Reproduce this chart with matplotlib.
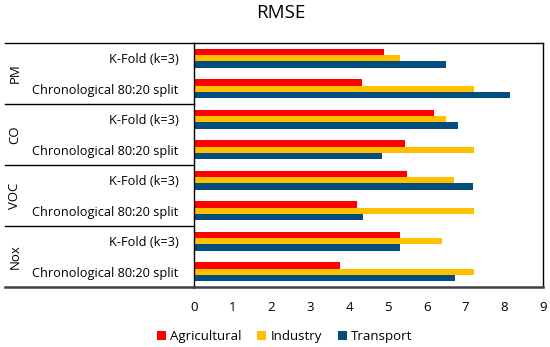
import matplotlib.pyplot as plt
from matplotlib.lines import Line2D
import numpy as np

# data, top to bottom
groups = ["PM", "CO", "VOC", "Nox"]
methods = ["K-Fold (k=3)", "Chronological 80:20 split"]
agricultural = [4.90, 4.32, 6.20, 5.45, 5.50, 4.21, 5.30, 3.76]
industry = [5.30, 7.23, 6.50, 7.23, 6.70, 7.23, 6.40, 7.23]
transport = [6.50, 8.14, 6.82, 4.86, 7.20, 4.35, 5.30, 6.72]

plt.rcParams['font.family'] = ['Open Sans', 'DejaVu Sans']

fig = plt.figure(figsize=(5.5, 3.47), dpi=100)
ax = fig.add_axes([194/550, 60/347, 349/550, 244/347])

n = len(agricultural)
y = np.arange(n)
h = 0.205
ax.barh(y - h, agricultural, height=h, color="#FF0000", label="Agricultural")
ax.barh(y, industry, height=h, color="#FFC000", label="Industry")
ax.barh(y + h, transport, height=h, color="#034E7F", label="Transport")

ax.set_ylim(n - 0.5, -0.5)
ax.set_xlim(0, 9)
ax.set_xticks(range(10))
ax.tick_params(axis='x', length=0, pad=10, labelsize=9.5)
ax.set_yticks(y)
ax.set_yticklabels(methods * len(groups), fontsize=9.2)
ax.tick_params(axis='y', length=0, pad=11)

for s in ['top', 'right', 'left']:
    ax.spines[s].set_color('black')
    ax.spines[s].set_linewidth(1.0)
ax.spines['bottom'].set_color('#404040')
ax.spines['bottom'].set_linewidth(1.8)

# label area lines
x0 = -189/349
for k in range(len(groups) + 1):
    yy = 1 - k * 0.25
    lw, col = (1.8, '#404040') if k == len(groups) else (1.0, 'black')
    ax.add_line(Line2D([x0, 0], [yy, yy], transform=ax.transAxes,
                       color=col, lw=lw, clip_on=False))
for k, g in enumerate(groups):
    ax.text(-179/349, 1 - (k + 0.5) * 0.25, g, transform=ax.transAxes,
            rotation=90, ha='center', va='center', fontsize=9.5)

fig.text(0.51, 0.962, "RMSE", ha='center', va='center', fontsize=13.5)
fig.legend(loc='center', bbox_to_anchor=(0.517, 0.03), ncol=3, frameon=False,
           fontsize=9.5, handlelength=0.7, handleheight=0.7, handletextpad=0.3,
           columnspacing=1.2)

fig.savefig("out.png", dpi=100)
